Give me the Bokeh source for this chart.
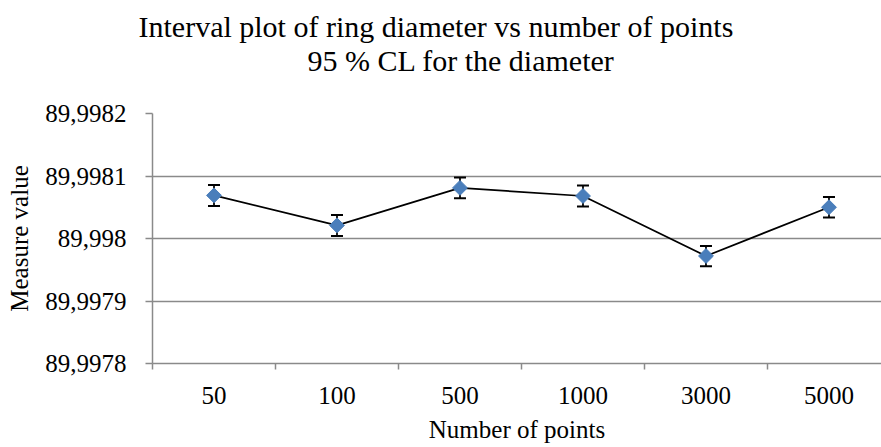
from bokeh.plotting import figure
from bokeh.models import (ColumnDataSource, Range1d, FixedTicker, CustomJSTickFormatter,
                          Whisker, TeeHead, Title)
from bokeh.embed import file_html
from bokeh.resources import INLINE

# ---- data ----
categories = ["50", "100", "500", "1000", "3000", "5000"]
means = [89.998069, 89.998021, 89.998081, 89.998068, 89.997972, 89.998050]
half_ci = [0.0000168, 0.0000168, 0.0000166, 0.0000168, 0.0000162, 0.0000165]
y_ticks = [89.9978, 89.9979, 89.998, 89.9981, 89.9982]
y_tick_labels = ["89,9978", "89,9979", "89,998", "89,9981", "89,9982"]

title_line1 = "Interval plot of ring diameter vs number of points"
title_line2 = "95 % CL for the diameter"

FONT = "Liberation Serif"
GRID = "#8a8a8a"
BLUE = "#4a7ebb"

xs = [i + 0.5 for i in range(len(categories))]
src = ColumnDataSource(dict(
    x=xs, y=means,
    lower=[m - h for m, h in zip(means, half_ci)],
    upper=[m + h for m, h in zip(means, half_ci)],
))

p = figure(width=881, height=447, output_backend="svg", toolbar_location=None,
           x_range=Range1d(0, 5.927), y_range=Range1d(y_ticks[0], y_ticks[-1]),
           min_border_left=152, min_border_right=0, min_border_top=113,
           min_border_bottom=84)
p.outline_line_color = None
p.background_fill_color = "white"

# two-line title (line 2 is nearest the plot)
p.add_layout(Title(text=title_line2, align="left", offset=155, standoff=74,
                   text_font=FONT, text_font_size="30px", text_font_style="normal",
                   text_color="black"), "above")
p.add_layout(Title(text=title_line1, align="left", offset=-14, standoff=-76,
                   text_font=FONT, text_font_size="30px", text_font_style="normal",
                   text_color="black"), "above")

# grid
p.xgrid.grid_line_color = None
p.ygrid.grid_line_color = GRID
p.ygrid.grid_line_width = 1.5

# y axis
p.yaxis.ticker = FixedTicker(ticks=y_ticks)
p.yaxis.formatter = CustomJSTickFormatter(args=dict(tvals=y_ticks, tlabels=y_tick_labels), code="""
let best = 0, d = Infinity;
for (let i = 0; i < tvals.length; i++) { const e = Math.abs(tvals[i] - tick); if (e < d) { d = e; best = i; } }
return tlabels[best];
""")
p.yaxis.axis_line_color = GRID
p.yaxis.axis_line_width = 1.5
p.yaxis.major_tick_line_color = GRID
p.yaxis.major_tick_line_width = 1.5
p.yaxis.major_tick_out = 7
p.yaxis.major_tick_in = 0
p.yaxis.minor_tick_line_color = None
p.yaxis.major_label_standoff = 19
p.yaxis.major_label_text_font = FONT
p.yaxis.major_label_text_font_size = "25px"
p.yaxis.major_label_text_color = "black"
p.yaxis.axis_label = "Measure value"
p.yaxis.axis_label_text_font = FONT
p.yaxis.axis_label_text_font_size = "25px"
p.yaxis.axis_label_text_font_style = "normal"
p.yaxis.axis_label_text_color = "black"
p.yaxis.axis_label_standoff = 9

# x axis
p.xaxis.ticker = FixedTicker(ticks=xs, minor_ticks=list(range(len(categories) + 1)))
p.xaxis.formatter = CustomJSTickFormatter(args=dict(cats=categories),
                                          code="return cats[Math.round(tick - 0.5)];")
p.xaxis.axis_line_color = GRID
p.xaxis.axis_line_width = 1.5
p.xaxis.major_tick_line_color = None
p.xaxis.major_tick_out = 0
p.xaxis.major_tick_in = 0
p.xaxis.minor_tick_line_color = GRID
p.xaxis.minor_tick_line_width = 1.5
p.xaxis.minor_tick_out = 6
p.xaxis.minor_tick_in = 0
p.xaxis.major_label_standoff = 17
p.xaxis.major_label_text_font = FONT
p.xaxis.major_label_text_font_size = "25px"
p.xaxis.major_label_text_color = "black"
p.xaxis.axis_label = "Number of points"
p.xaxis.axis_label_text_font = FONT
p.xaxis.axis_label_text_font_size = "25px"
p.xaxis.axis_label_text_font_style = "normal"
p.xaxis.axis_label_text_color = "black"
p.xaxis.axis_label_standoff = 9

# series
p.line("x", "y", source=src, line_color="black", line_width=1.75)
w = Whisker(base="x", upper="upper", lower="lower", source=src,
            line_color="black", line_width=1.75,
            upper_head=TeeHead(size=12, line_color="black", line_width=2),
            lower_head=TeeHead(size=12, line_color="black", line_width=2))
p.add_layout(w)
p.scatter("x", "y", source=src, marker="square", angle=0.7853981634, size=10.5,
          fill_color=BLUE, line_color=BLUE, level="overlay")

open("out.html", "w").write(file_html(p, INLINE))
